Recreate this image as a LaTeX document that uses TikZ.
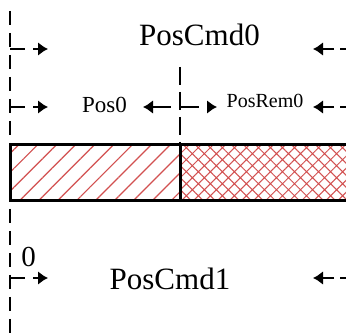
\documentclass[tikz,border=0pt]{standalone}
\usepackage{fontspec}
\setmainfont{Liberation Serif}
\usepackage{tikz}
\usetikzlibrary{arrows.meta,patterns.meta}
\definecolor{hachura}{RGB}{210,80,80}
\tikzset{
    ponta/.tip={Latex[length=10pt,width=14pt]},
    guia/.style={line width=2.8pt, dash pattern=on 14pt off 8pt},
    cota/.style={-ponta, line width=2.8pt},
    cotaEsq/.style={cota, dash pattern=on 15pt off 8pt},
    cotaDir/.style={cota, dash pattern=on 15pt off 6pt, dash phase=9pt},
    barra/.style={line width=3pt},
    rotuloGrande/.style={anchor=base, inner sep=0pt, font=\fontsize{31}{31}\selectfont},
    rotuloPos/.style={anchor=base, inner sep=0pt, font=\fontsize{23}{23}\selectfont},
    rotuloResto/.style={anchor=base, inner sep=0pt, font=\fontsize{20}{20}\selectfont},
    rotuloZero/.style={anchor=base, inner sep=0pt, font=\fontsize{29}{29}\selectfont}
}

\begin{document}
\begin{tikzpicture}[x=1pt, y=-1pt]
    \useasboundingbox (0,0) rectangle (346,334);

    % linhas de referencia
    \coordinate (guiaTopo) at (10,11);
    \coordinate (guiaBase) at (10,334);
    \coordinate (meioTopo) at (180,67);
    \coordinate (meioBarra) at (180,145);
    \draw[guia] (guiaTopo) -- (guiaBase);
    \draw[guia, dash pattern=on 18pt off 7pt] (meioTopo) -- (meioBarra);

    % barra hachurada
    \fill[white] (10,145) rectangle (346,201);
    \fill[pattern={Lines[angle=45, distance=13.4pt, line width=1.2pt]}, pattern color=hachura]
        (10,145) rectangle (180,201);
    \fill[pattern={Hatch[angle=45, distance=8.5pt, line width=1pt]}, pattern color=hachura]
        (180,145) rectangle (346,201);
    \draw[barra] (346,145) -- (10,145) -- (10,201) -- (346,201);
    \draw[barra] (180,145) -- (180,201);

    % rotulos
    \node[rotuloGrande] (posCmd0) at (199.5,46) {PosCmd0};
    \node[rotuloPos] (pos0) at (104.5,113) {Pos0};
    \node[rotuloResto] (posRem0) at (265,108) {PosRem0};
    \node[rotuloZero] (zero) at (28.5,267) {0};
    \node[rotuloGrande] (posCmd1) at (170,290) {PosCmd1};

    % cotas
    \coordinate (c0e) at (10,49);  \coordinate (c0ep) at (48,49);
    \coordinate (c0d) at (346,49); \coordinate (c0dp) at (313,49);
    \coordinate (p0e) at (10,107); \coordinate (p0ep) at (48,107);
    \coordinate (p0m) at (143,107); \coordinate (r0m) at (217,107);
    \coordinate (r0d) at (346,107); \coordinate (r0dp) at (313,107);
    \coordinate (c1e) at (10,278); \coordinate (c1ep) at (48,278);
    \coordinate (c1d) at (346,278); \coordinate (c1dp) at (313,278);

    \draw[cotaEsq] (c0e) -- (c0ep);
    \draw[cotaDir] (c0d) -- (c0dp);
    \draw[cotaEsq] (p0e) -- (p0ep);
    \draw[cota, ponta-ponta, dash pattern=on 19pt off 8.5pt] (p0m) -- (r0m);
    \draw[cotaDir] (r0d) -- (r0dp);
    \draw[cotaEsq] (c1e) -- (c1ep);
    \draw[cotaDir] (c1d) -- (c1dp);
\end{tikzpicture}
\end{document}
